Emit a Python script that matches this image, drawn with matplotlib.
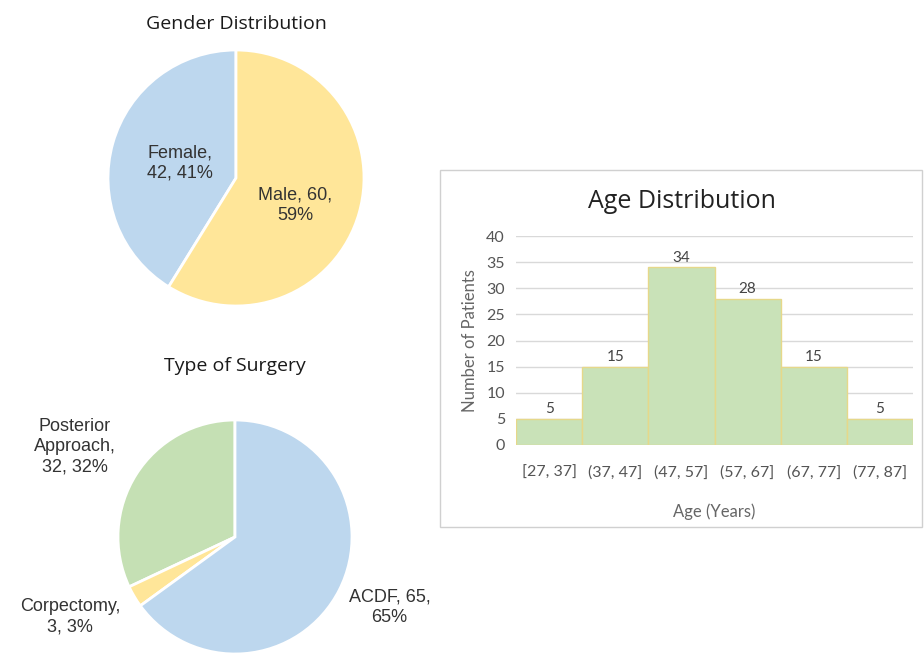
import matplotlib
matplotlib.use("Agg")
from matplotlib import pyplot as plt
from matplotlib.patches import Rectangle

# gender pie
gender_names = ['Female', 'Male']
gender_counts = [42, 60]
gender_pct = [41, 59]
gender_colors = ['#bdd7ee', '#ffe699']

# surgery pie
surgery_names = ['Posterior\nApproach', 'Corpectomy', 'ACDF']
surgery_counts = [32, 3, 65]
surgery_pct = [32, 3, 65]
surgery_colors = ['#c5e0b4', '#ffe699', '#bdd7ee']

# age histogram
age_bins = ['[27, 37]', '(37, 47]', '(47, 57]', '(57, 67]', '(67, 77]', '(77, 87]']
age_counts = [5, 15, 34, 28, 15, 5]

W, H = 924, 656
fig = plt.figure(figsize=(W / 100, H / 100), dpi=100)
fig.patch.set_facecolor('white')

def px_axes(cx, cy, r):
    return fig.add_axes([(cx - r) / W, 1 - (cy + r) / H, 2 * r / W, 2 * r / H])

pie_font = dict(family=['Liberation Sans', 'DejaVu Sans'], fontsize=13, color='#333333',
                linespacing=1.25)
title_font = dict(family=['Open Sans', 'DejaVu Sans'], fontsize=14, color='#1a1a1a')
lato = ['Lato', 'DejaVu Sans']

# ---- Gender Distribution
ax1 = px_axes(236, 178, 128)
ax1.pie(gender_counts, colors=gender_colors, startangle=90, counterclock=True,
        wedgeprops=dict(edgecolor='white', linewidth=2))
ax1.set_xlim(-1, 1); ax1.set_ylim(-1, 1)
ax1.text(-0.44, 0.12, f'{gender_names[0]},\n{gender_counts[0]}, {gender_pct[0]}%',
         ha='center', va='center', **pie_font)
ax1.text(0.46, -0.21, f'{gender_names[1]}, {gender_counts[1]},\n{gender_pct[1]}%',
         ha='center', va='center', **pie_font)
fig.text(236 / W, 1 - 24 / H, 'Gender Distribution', ha='center', va='center', **title_font)

# ---- Type of Surgery
ax2 = px_axes(235, 537, 117)
ax2.pie(surgery_counts, colors=surgery_colors, startangle=90, counterclock=True,
        wedgeprops=dict(edgecolor='white', linewidth=2))
ax2.set_xlim(-1, 1); ax2.set_ylim(-1, 1)
pos = [(-1.37, 0.77), (-1.41, -0.68), (1.32, -0.60)]
for (x, y), n, c, p in zip(pos, surgery_names, surgery_counts, surgery_pct):
    if n == 'ACDF':
        txt = f'{n}, {c},\n{p}%'
    else:
        txt = f'{n},\n{c}, {p}%'
    ax2.text(x, y, txt, ha='center', va='center', clip_on=False, **pie_font)
fig.text(235 / W, 1 - 366 / H, 'Type of Surgery', ha='center', va='center', **title_font)

# ---- Age Distribution
fig.patches.append(Rectangle((440 / W, 1 - 527 / H), 482 / W, 357 / H,
                             transform=fig.transFigure, facecolor='none',
                             edgecolor='#d0d0d0', linewidth=1))
ax3 = fig.add_axes([516 / W, 1 - 445 / H, 397 / W, 209 / H])
xs = range(len(age_counts))
ax3.bar(xs, age_counts, width=1.0, color='#c9e2b8', edgecolor='#e6d88a', linewidth=1, zorder=3)
for x, v in zip(xs, age_counts):
    ax3.text(x, v + 0.5, str(v), ha='center', va='bottom', fontsize=11,
             family=lato, color='#444444', zorder=4)
ax3.set_xlim(-0.5, len(age_counts) - 0.5)
ax3.set_ylim(0, 40)
ax3.set_yticks(range(0, 41, 5))
ax3.yaxis.grid(True, color='#d9d9d9', linewidth=1, zorder=0)
ax3.set_axisbelow(True)
for s in ax3.spines.values():
    s.set_visible(False)
ax3.tick_params(length=0, labelsize=11.5, labelcolor='#555555', pad=8)
ax3.tick_params(axis='x', pad=15)
ax3.set_xticks(list(xs))
ax3.set_xticklabels(age_bins, family=lato)
for t in ax3.get_yticklabels():
    t.set_family(lato)
ax3.set_xlabel('Age (Years)', fontsize=12, color='#666666', family=lato, labelpad=17)
ax3.set_ylabel('Number of Patients', fontsize=12, color='#666666', family=lato, labelpad=6)
fig.text(682 / W, 1 - 201 / H, 'Age Distribution', ha='center', va='center', fontsize=18,
         family=['Open Sans', 'DejaVu Sans'], color='#222222')

fig.savefig('out.png', dpi=100, facecolor='white')
